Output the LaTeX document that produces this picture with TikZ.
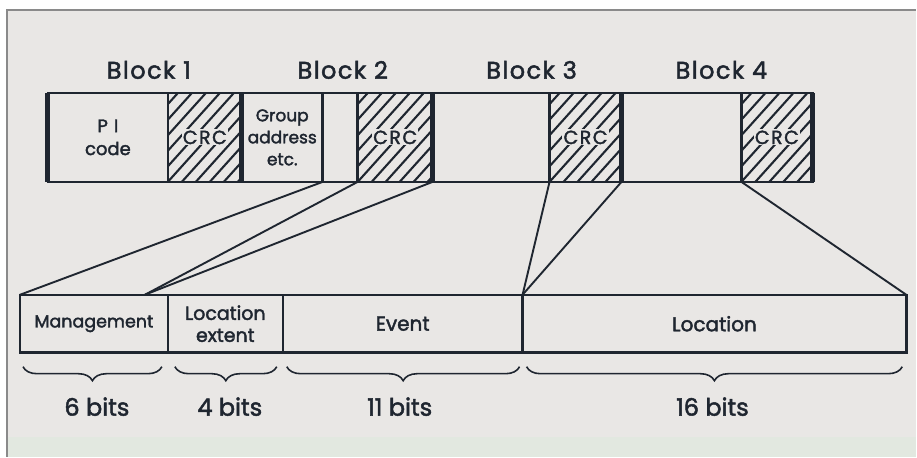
\documentclass[tikz,border=0pt]{standalone}
\usepackage{fontspec}
\setmainfont{Poppins}[FakeBold=2]
\usetikzlibrary{decorations.pathreplacing}
\definecolor{ink}{HTML}{1F2630}
\definecolor{panel}{HTML}{E9E7E5}
\definecolor{band}{HTML}{E2E8E0}
\definecolor{framec}{HTML}{8A8A8A}
\newcommand{\hatchbox}[2]{%
  \begin{scope}
    \clip (#1,93) rectangle (#2,182);
    \foreach \s in {-98,-84,...,84} {
      \draw[hatchline] ({#1+\s},182) -- ++(90,-100);
    }
  \end{scope}}
\begin{document}
\begin{tikzpicture}[x=1pt,y=-1pt,
  field/.style={draw=ink, line width=2.5pt, inner sep=0pt, outer sep=0pt,
    anchor=north west, align=center, text=ink},
  topfield/.style={field, minimum height=89pt},
  botfield/.style={field, minimum height=58pt},
  link/.style={draw=ink, line width=1.9pt},
  hatchline/.style={draw=ink, line width=2.1pt},
  divider/.style={draw=ink, line width=5pt},
  blocklabel/.style={text=ink, font=\fontsize{24}{28}\selectfont\addfontfeatures{LetterSpace=6}},
  crctext/.style={text=ink, fill=panel, inner sep=1.2pt, font=\fontsize{19}{22}\selectfont\addfontfeatures{LetterSpace=8}},
  bitlabel/.style={text=ink, font=\fontsize{24}{28}\selectfont},
  bracestyle/.style={draw=ink, line width=1.6pt, decorate,
    decoration={brace, mirror, amplitude=14pt}},
]
% background
\fill[white] (0,0) rectangle (917,457);
\fill[panel] (7,10) rectangle (917,457);
\fill[band] (7,437) rectangle (917,457);
\draw[framec, line width=1.5pt] (7,457) -- (7,10) -- (917,10);

% block labels
\node[blocklabel] (bl1) at (149,70) {Block 1};
\node[blocklabel] (bl2) at (343,70) {Block 2};
\node[blocklabel] (bl3) at (532,70) {Block 3};
\node[blocklabel] (bl4) at (722,70) {Block 4};

% top bar
\node[topfield, minimum width=120pt, font=\fontsize{18}{23}\selectfont] (pi) at (48,93) {P\,\,I\\code};
\node[topfield, minimum width=74pt] (crc1) at (168,93) {};
\node[topfield, minimum width=81pt, font=\fontsize{17}{22}\selectfont] (grp) at (242,93) {Group\\address\\etc.};
\node[topfield, minimum width=35pt] (b2x) at (323,93) {};
\node[topfield, minimum width=75pt] (crc2) at (358,93) {};
\node[topfield, minimum width=117pt] (b3) at (433,93) {};
\node[topfield, minimum width=72pt] (crc3) at (550,93) {};
\node[topfield, minimum width=120pt] (b4) at (622,93) {};
\node[topfield, minimum width=71pt] (crc4) at (742,93) {};

% hatching
\hatchbox{168}{242}
\hatchbox{358}{433}
\hatchbox{550}{622}
\hatchbox{742}{813}

\node[crctext] (t1) at (crc1.center) {CRC};
\node[crctext] (t2) at (crc2.center) {CRC};
\node[crctext] (t3) at (crc3.center) {CRC};
\node[crctext] (t4) at (crc4.center) {CRC};

% redraw outlines over hatching
\foreach \n in {pi,crc1,grp,b2x,crc2,b3,crc3,b4,crc4} {
  \draw[ink, line width=2.5pt] (\n.north west) rectangle (\n.south east);
}
% thick block dividers
\draw[divider] (pi.north west) -- (pi.south west);
\draw[divider] (crc1.north east) -- (crc1.south east);
\draw[divider] (crc2.north east) -- (crc2.south east);
\draw[divider] (crc3.north east) -- (crc3.south east);
\draw[divider] (crc4.north east) -- (crc4.south east);

% bottom bar
\node[botfield, minimum width=148pt, font=\fontsize{17.5}{20}\selectfont] (mgmt) at (20,295) {Management};
\node[botfield, minimum width=115pt, font=\fontsize{19}{22}\selectfont] (locext) at (168,295) {Location\\extent};
\node[botfield, minimum width=240pt, font=\fontsize{20}{22}\selectfont] (event) at (283,295) {Event};
\node[botfield, minimum width=384pt, font=\fontsize{20}{22}\selectfont] (loc) at (523,295) {Location};

% connectors
\coordinate (mjoin) at (145,295);
\draw[link] (grp.south east) -- (mgmt.north west);
\draw[link] (crc2.south west) -- (mjoin);
\draw[link] (crc2.south east) -- (mjoin);
\draw[link] (crc3.south west) -- (event.north east);
\draw[link] (crc3.south east) -- (event.north east);
\draw[link] (crc4.south west) -- (loc.north east);

% braces
\draw[bracestyle] (23,367) -- (162,367);
\draw[bracestyle] (175,367) -- (277,367);
\draw[bracestyle] (287,367) -- (520,367);
\draw[bracestyle] (527,367) -- (903,367);

\node[bitlabel] (n6) at (97,407) {6 bits};
\node[bitlabel] (n4) at (230,407) {4 bits};
\node[bitlabel] (n11) at (400,407) {11 bits};
\node[bitlabel] (n16) at (713,407) {16 bits};
\end{tikzpicture}
\end{document}
